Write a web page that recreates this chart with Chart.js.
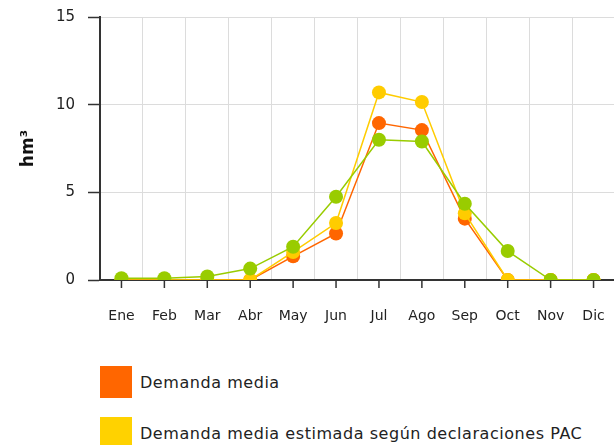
<!DOCTYPE html>
<html lang="es">
  <head>
    <meta charset="UTF-8" />
    <script src="https://cdn.jsdelivr.net/npm/chart.js"></script>
    <style>
      html, body { margin: 0; padding: 0; background: #fff; overflow: hidden; }
      #wrap { position: relative; width: 622px; height: 330px; }
      #leyenda { position: absolute; left: 100px; top: 366px; font-family: "DejaVu Sans", sans-serif; font-size: 16px; color: #222; letter-spacing: 0.55px; }
      .item { display: flex; align-items: center; height: 32px; margin-bottom: 19px; }
      .cuadro { width: 32px; height: 32px; margin-right: 8px; }
    </style>
    <title>Demanda hm3</title>
  </head>
  <body>
    <div id="wrap"><canvas id="grafico"></canvas></div>
    <div id="leyenda">
      <div class="item"><div class="cuadro" style="background:#ff6600"></div>Demanda media</div>
      <div class="item"><div class="cuadro" style="background:#ffd200"></div>Demanda media estimada según declaraciones PAC</div>
    </div>
  <script>
    // datos
    const meses = ["Ene", "Feb", "Mar", "Abr", "May", "Jun", "Jul", "Ago", "Sep", "Oct", "Nov", "Dic"];
    const demandaMedia = [0, 0, 0, 0, 1.35, 2.65, 8.95, 8.55, 3.5, 0, 0, 0];
    const demandaPAC = [0, 0, 0, 0, 1.6, 3.25, 10.7, 10.15, 3.8, 0, 0, 0];
    const demandaVerde = [0.1, 0.1, 0.2, 0.65, 1.9, 4.75, 8.0, 7.9, 4.35, 1.65, 0, 0];
    const ticksY = [0, 5, 10, 15];

    // marcas del eje x en el centro de cada mes
    const marcasX = {
      id: "marcasX",
      beforeDatasetsDraw(chart) {
        const x = chart.scales.x;
        const c = chart.ctx;
        c.save();
        c.strokeStyle = "#333";
        c.lineWidth = 1.5;
        meses.forEach((m, i) => {
          const px = x.getPixelForValue(i);
          c.beginPath();
          c.moveTo(px, x.top);
          c.lineTo(px, x.top + 8);
          c.stroke();
        });
        c.restore();
      },
    };

    const ctx = document.getElementById("grafico");
    new Chart(ctx, {
      type: "line",
      data: {
        labels: meses,
        datasets: [
          {
            label: "Demanda media",
            data: demandaMedia,
            borderColor: "#ff6600",
            backgroundColor: "#ff6600",
            order: 3,
          },
          {
            label: "Demanda media estimada según declaraciones PAC",
            data: demandaPAC,
            borderColor: "#ffcc00",
            backgroundColor: "#ffcc00",
            order: 2,
          },
          {
            label: "Demanda",
            data: demandaVerde,
            borderColor: "#99cc00",
            backgroundColor: "#99cc00",
            order: 1,
          },
        ],
      },
      plugins: [marcasX],
      options: {
        responsive: true,
        maintainAspectRatio: false,
        animation: false,
        layout: { padding: { top: 17, left: 0, right: 0, bottom: 0 } },
        elements: {
          line: { borderWidth: 1.5, tension: 0 },
          point: { radius: 7, borderWidth: 0, hoverRadius: 7 },
        },
        plugins: { legend: { display: false }, tooltip: { enabled: false } },
        scales: {
          x: {
            offset: true,
            afterFit: (s) => { s.height = 50; s.paddingLeft = 0; s.paddingRight = 0; },
            grid: { offset: true, color: "#dcdcdc", drawTicks: false },
            border: { color: "#333", width: 2 },
            ticks: { padding: 28, color: "#222", font: { family: "DejaVu Sans", size: 14 } },
          },
          y: {
            min: 0,
            max: 15,
            afterFit: (s) => { s.width = 100; s.paddingTop = 0; s.paddingBottom = 0; },
            afterBuildTicks: (s) => { s.ticks = ticksY.map((v) => ({ value: v })); },
            grid: { color: "#dcdcdc", tickLength: 12, tickColor: "#333", tickWidth: 1.5 },
            border: { color: "#333", width: 2 },
            ticks: { padding: 13, color: "#222", font: { family: "DejaVu Sans", size: 15 } },
            title: {
              display: true,
              text: "hm³",
              color: "#111",
              padding: { top: 18 },
              font: { family: "DejaVu Sans", size: 17, weight: "bold" },
            },
          },
        },
      },
    });
  </script>
  </body>
</html>
